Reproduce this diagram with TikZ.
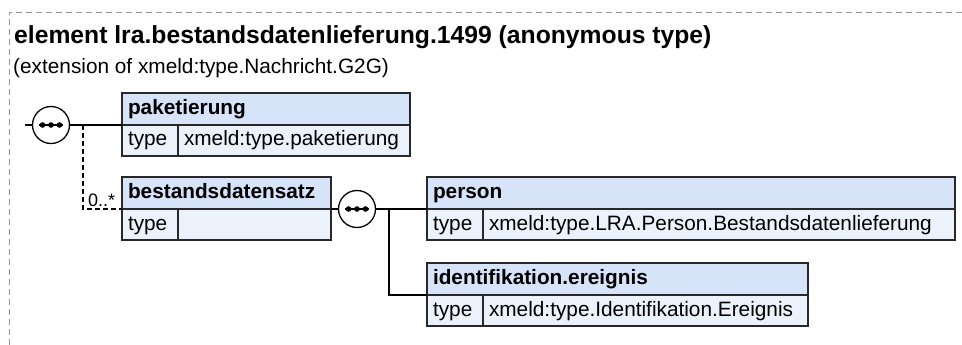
\documentclass[tikz,border=0pt]{standalone}
\usepackage{fontspec}
\setmainfont{Liberation Sans}
\usetikzlibrary{shadows}
\definecolor{lc}{RGB}{40,40,40}
\definecolor{hfill}{RGB}{214,227,248}
\definecolor{rfill}{RGB}{236,242,252}
\definecolor{frame}{RGB}{150,150,150}
\tikzset{
  boxshadow/.style={drop shadow={shadow xshift=1.2pt, shadow yshift=-1.2pt, fill=black!45, opacity=1}},
  hdr/.style={draw=lc, fill=hfill, line width=1.2pt, anchor=north west, boxshadow,
    minimum height=32pt, inner xsep=6pt, inner ysep=0pt, outer sep=0pt,
    font=\bfseries\fontsize{20.8}{24}\selectfont, align=left,
    text width=#1, text height=15pt, text depth=4pt},
  row/.style={draw=lc, fill=rfill, line width=1.2pt, anchor=north west, boxshadow,
    minimum height=31pt, inner xsep=6pt, inner ysep=0pt, outer sep=0pt,
    font=\fontsize{20.8}{24}\selectfont, align=left,
    text width=#1, text height=15pt, text depth=4pt},
  seqnode/.style={circle, draw=black, fill=white, line width=1.3pt, minimum size=37pt, inner sep=0pt, outer sep=0pt},
  conn/.style={draw=black, line width=1.4pt},
  optconn/.style={draw=black, line width=1.3pt, dash pattern=on 5pt off 3pt},
}
\newcommand{\seqdots}[1]{%
  \draw[line width=1.4pt] ([xshift=-12pt]#1.center) -- ([xshift=12pt]#1.center);
  \foreach \dx in {-8.5,0,8.5} \fill ([xshift=\dx pt]#1.center) circle (2.8pt);
}
\begin{document}
\begin{tikzpicture}[x=1pt,y=-1pt]
\useasboundingbox (0,0) rectangle (962,345);
% frame
\draw[frame, line width=0.9pt, dash pattern=on 6pt off 4pt] (962,12) -- (9,12) -- (9,345);
% titles
\node[anchor=base west, inner sep=0pt, font=\bfseries\fontsize{24.7}{28}\selectfont] (title) at (14,44) {element lra.bestandsdatenlieferung.1499 (anonymous type)};
\node[anchor=base west, inner sep=0pt, font=\fontsize{20.8}{24}\selectfont] (subtitle) at (13,74) {(extension of xmeld:type.Nachricht.G2G)};

% paketierung
\node[hdr=276pt] (pakH) at (122,93) {paketierung};
\node[row=44pt] (pakL) at (122,125) {type};
\node[row=220pt] (pakV) at (178,125) {xmeld:type.paketierung};

% bestandsdatensatz
\node[hdr=197pt] (besH) at (122,177) {bestandsdatensatz};
\node[row=44pt] (besL) at (122,209) {type};
\node[row=141pt] (besV) at (178,209) {};

% person
\node[hdr=516pt] (perH) at (427,177) {person};
\node[row=44pt] (perL) at (427,209) {type};
\node[row=460pt] (perV) at (483,209) {xmeld:type.LRA.Person.Bestandsdatenlieferung};

% identifikation.ereignis
\node[hdr=369pt] (ideH) at (427,263) {identifikation.ereignis};
\node[row=44pt] (ideL) at (427,295) {type};
\node[row=313pt] (ideV) at (483,295) {xmeld:type.Identifikation.Ereignis};

% sequence 1
\coordinate (in1) at (25,125);
\node[seqnode] (seq1) at (51,125) {};
\seqdots{seq1}
\draw[conn] (in1) -- (seq1.west);
\draw[conn] (seq1.east) -- (pakH.south west);
\coordinate (br1) at (83,125);
\draw[optconn] (br1) |- (besH.south west);
\node[anchor=base west, inner sep=0pt, font=\fontsize{18}{20}\selectfont] (mult) at (88,206) {0..*};

% sequence 2
\node[seqnode] (seq2) at (357,209) {};
\seqdots{seq2}
\draw[conn] (besH.south east) -- (seq2.west);
\draw[conn] (seq2.east) -- (perH.south west);
\coordinate (br2) at (389,209);
\draw[conn] (br2) |- (ideH.south west);
\end{tikzpicture}
\end{document}
